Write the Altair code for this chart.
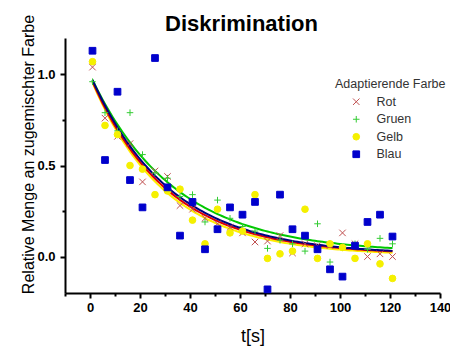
import altair as alt
import pandas as pd
import numpy as np

# ---- data ----
t = [1, 6, 11, 16, 21, 26, 31, 36, 41, 46, 51, 56, 61, 66, 71, 76, 81, 86, 91, 96, 101, 106, 111, 116, 121]
rot = [1.04, 0.76, 0.66, 0.62, 0.41, 0.47, 0.44, 0.28, 0.26, 0.21, 0.18, 0.16, 0.13, 0.08, 0.085, 0.115, 0.02, 0.07, 0.06, 0.06, 0.13, 0.07, 0.00, 0.015, 0.00]
gruen = [0.96, 0.79, 0.69, 0.79, 0.56, 0.46, 0.43, 0.33, 0.34, 0.19, 0.31, 0.21, 0.165, 0.14, 0.045, 0.09, 0.07, 0.03, 0.18, -0.03, 0.05, 0.07, 0.04, 0.10, 0.07]
gelb = [1.07, 0.72, 0.67, 0.50, 0.48, 0.34, 0.36, 0.37, 0.20, 0.07, 0.26, 0.13, 0.14, 0.34, -0.01, 0.015, 0.03, 0.26, -0.01, 0.07, 0.05, -0.01, 0.07, -0.04, -0.12]
blau = [1.13, 0.53, 0.905, 0.42, 0.27, 1.09, 0.38, 0.115, 0.30, 0.04, 0.15, 0.27, 0.23, 0.30, -0.18, 0.34, 0.15, 0.115, 0.04, -0.07, -0.11, 0.06, 0.19, 0.23, 0.11]

series = ["Rot", "Gruen", "Gelb", "Blau"]
values = [rot, gruen, gelb, blau]

# exponential fit parameters (y = y0 + A * exp(-(t - 1) / tau))
fit_y0 = [0.01, 0.02, 0.005, 0.01]
fit_A = [0.95, 0.95, 0.95, 0.96]
fit_tau = [30.5, 33.5, 29.5, 31.5]

point_colors = ["#c05050", "#33cc33", "#f5f000", "#0000cc"]
line_colors = ["#e00000", "#00c800", "#ffee00", "#000080"]
shapes = ["M-1,-1L1,1M-1,1L1,-1", "M-1,0L1,0M0,-1L0,1", "circle", "square"]
sizes = [42, 45, 18, 18]

FONT = "Liberation Sans"

pts = pd.DataFrame(
    [{"t": tt, "y": v, "Farbe": s} for s, vals in zip(series, values) for tt, v in zip(t, vals)]
)

tgrid = np.linspace(1, 121, 121)
fits = pd.DataFrame(
    [
        {"t": tt, "y": y0 + a * np.exp(-(tt - 1) / tau), "Fit": s}
        for s, y0, a, tau in zip(series, fit_y0, fit_A, fit_tau)
        for tt in tgrid
    ]
)

xs = alt.Scale(domain=[-10, 140], nice=False, zero=False)
ys = alt.Scale(domain=[-0.2, 1.2], nice=False, zero=False)

major_x = alt.Axis(
    orient="bottom", values=[0, 20, 40, 60, 80, 100, 120, 140], title="t[s]",
    titleFontSize=18, titleFontWeight="normal", titleFont=FONT, titleColor="black",
    titleY=48, titleBaseline="alphabetic",
    labelFontSize=13, labelFontWeight="bold", labelFont=FONT, labelColor="black",
    labelPadding=3, tickSize=5, tickWidth=2, tickColor="black",
    domainColor="black", domainWidth=2, grid=False, labelFlush=False,
)
major_y = alt.Axis(
    orient="left", values=[0, 0.5, 1.0], format=".1f",
    title="Relative Menge an zugemischter Farbe",
    titleFontSize=16, titleFontWeight="normal", titleFont=FONT, titleColor="black",
    titleAngle=270, titleX=-32, titleY=116, titleBaseline="alphabetic", titleAlign="center",
    labelFontSize=13, labelFontWeight="bold", labelFont=FONT, labelColor="black",
    labelPadding=5, tickSize=5, tickWidth=2, tickColor="black",
    domainColor="black", domainWidth=2, grid=False, labelFlush=False,
)
minor_x = alt.Axis(
    orient="bottom", values=[-10, 10, 30, 50, 70, 90, 110, 130], labels=False, title=None,
    domain=False, tickSize=3, tickWidth=2, tickColor="black", grid=False,
)
minor_y = alt.Axis(
    orient="left", values=[-0.25, 0.25, 0.75], labels=False, title=None,
    domain=False, tickSize=3, tickWidth=2, tickColor="black", grid=False,
)

layers = []
draw_order = [2, 0, 1, 3]  # yellow, red, green, blue (blue on top)
for i in draw_order:
    layers.append(
        alt.Chart(fits[fits["Fit"] == series[i]])
        .mark_line(strokeWidth=2, color=line_colors[i], clip=True)
        .encode(
            x=alt.X("t:Q", scale=xs, axis=None),
            y=alt.Y("y:Q", scale=ys, axis=None),
        )
    )

legend = alt.Legend(
    title="Adaptierende Farbe", orient="none", legendX=270, legendY=40,
    titleFont=FONT, titleFontSize=12.5, titleFontWeight="normal", titleColor="#333333",
    titlePadding=5, labelFont=FONT, labelFontSize=12.5, labelColor="#333333",
    labelOffset=14, symbolOffset=15, symbolSize=36, symbolStrokeWidth=1,
    rowPadding=4.5, padding=0,
)

points = (
    alt.Chart(pts)
    .mark_point(filled=True, strokeWidth=1, opacity=1)
    .encode(
        x=alt.X("t:Q", scale=xs, axis=major_x),
        y=alt.Y("y:Q", scale=ys, axis=major_y),
        color=alt.Color("Farbe:N", scale=alt.Scale(domain=series, range=point_colors), legend=legend),
        stroke=alt.Stroke("Farbe:N", scale=alt.Scale(domain=series, range=point_colors), legend=legend),
        shape=alt.Shape("Farbe:N", scale=alt.Scale(domain=series, range=shapes), legend=legend),
        size=alt.Size("Farbe:N", scale=alt.Scale(domain=series, range=sizes), legend=None),
    )
)

minor = (
    alt.Chart(pts)
    .mark_point(opacity=0)
    .encode(
        x=alt.X("t:Q", scale=xs, axis=minor_x),
        y=alt.Y("y:Q", scale=ys, axis=minor_y),
    )
)

chart = (
    alt.layer(*layers, points, minor)
    .resolve_axis(x="independent", y="independent")
    .properties(
        width=375,
        height=255,
        autosize="none",
        padding={"left": 65, "top": 38, "right": 10, "bottom": 55},
        title=alt.Title(
            "Diskrimination", font=FONT, fontSize=22, fontWeight="bold", color="black",
            anchor="middle", frame="group", baseline="alphabetic", offset=8, dx=-11, dy=47,
        ),
        background="white",
    )
    .configure_view(stroke=None)
)

chart.save("out.html", embed_options={"renderer": "svg", "actions": False})
